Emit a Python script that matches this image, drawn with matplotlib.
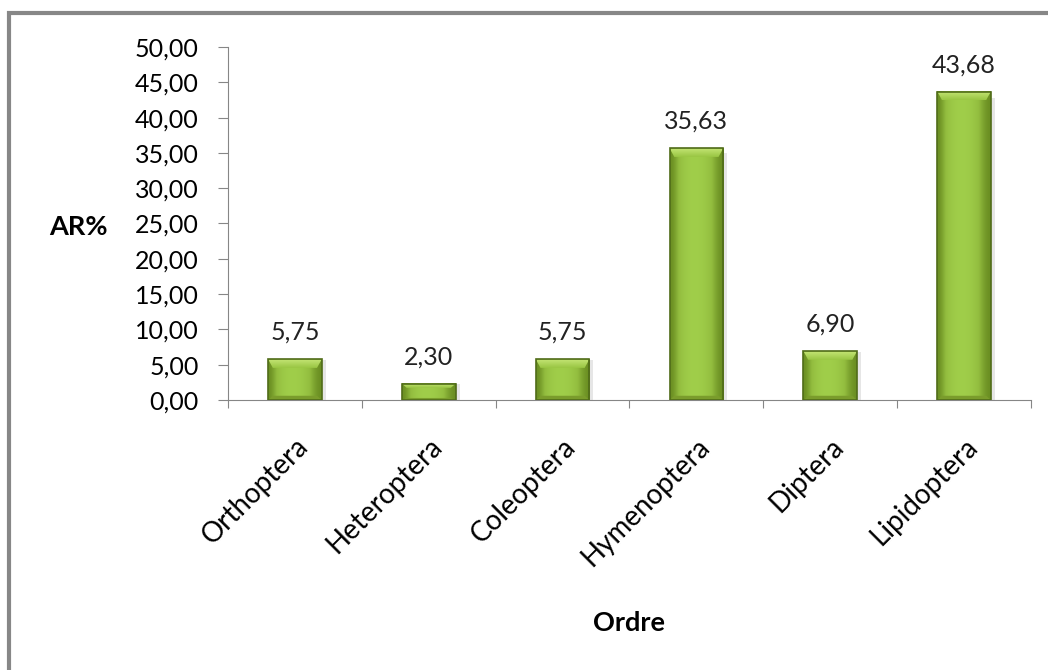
import numpy as np
import matplotlib.pyplot as plt
from matplotlib.patches import Rectangle
from matplotlib.colors import LinearSegmentedColormap

plt.rcParams['font.family'] = ['Lato', 'DejaVu Sans']

ordres = ["Orthoptera", "Heteroptera", "Coleoptera", "Hymenoptera", "Diptera", "Lipidoptera"]
ar_pct = [5.75, 2.30, 5.75, 35.63, 6.90, 43.68]
yticks = np.arange(0, 50.01, 5)

fig = plt.figure(figsize=(10.48, 6.70), dpi=100)
ax = fig.add_axes([228 / 1048, 1 - 400 / 670, 803 / 1048, 353 / 670])

# figure frame (runs off the right and bottom edges)
fig.patches.append(Rectangle((9 / 1048, -0.05), 1.1, 1 - 13 / 670 + 0.05,
                             transform=fig.transFigure, fill=False,
                             edgecolor='#878787', linewidth=3, zorder=0))

x = np.arange(len(ordres))
w = 0.4
# horizontal shading across each bar: dark edges, light middle
grad = np.array([[0.0, 0.55, 0.85, 1.0, 1.0, 0.9, 0.7, 0.3, 0.0]])
cmap = LinearSegmentedColormap.from_list('grn', ['#6a8e22', '#92bc3e', '#a0ce4a'])
hl_cmap = LinearSegmentedColormap.from_list('hl', ['#99c643', '#c4e474'])

for xi, v in zip(x, ar_pct):
    x0, x1 = xi - w / 2, xi + w / 2
    # soft shadow on the right
    ax.add_patch(Rectangle((x1, 0), 0.03, v * 0.98, color='#e6e6e6', lw=0, zorder=1))
    ax.imshow(grad, extent=(x0, x1, 0, v), aspect='auto', cmap=cmap,
              interpolation='bicubic', zorder=2)
    bev = min(1.2, v * 0.25)
    # top bevel highlight, fading downwards
    top = ax.fill([x0, x1, x1 - 0.035, x0 + 0.035], [v, v, v - bev, v - bev],
                  color='none', lw=0, zorder=3)[0]
    im = ax.imshow(np.linspace(0, 1, 20)[:, None], extent=(x0, x1, v - bev, v),
                   aspect='auto', cmap=hl_cmap, origin='lower', zorder=3,
                   interpolation='bicubic')
    im.set_clip_path(top)
    ax.fill([x0, x0 + 0.035, x1 - 0.035, x1], [0, bev * 0.5, bev * 0.5, 0],
            color='#7a9c2c', lw=0, zorder=3)
    ax.add_patch(Rectangle((x0, 0), w, v, fill=False, edgecolor='#506c19',
                           lw=1.2, zorder=4))
    ax.text(xi, v + 2.2, f"{v:.2f}".replace('.', ','), ha='center', va='bottom',
            fontsize=18, color='#222222')

ax.set_xlim(-0.5, len(ordres) - 0.5)
ax.set_ylim(0, 50)
ax.set_yticks(yticks)
ax.set_yticklabels([f"{t:.2f}".replace('.', ',') for t in yticks], fontsize=18)
ax.set_xticks(np.arange(len(ordres) + 1) - 0.5)
ax.set_xticklabels([])
ax.set_xticks(x, minor=True)
ax.set_xticklabels(ordres, minor=True, rotation=45, ha='right',
                   rotation_mode='anchor', fontsize=20)
ax.tick_params(axis='x', which='minor', length=0, pad=24)
ax.tick_params(axis='x', which='major', length=6, direction='out', color='#868686')
ax.tick_params(axis='y', length=7, direction='out', color='#868686', pad=14)

for s in ['top', 'right']:
    ax.spines[s].set_visible(False)
for s in ['left', 'bottom']:
    ax.spines[s].set_color('#868686')

fig.text(78 / 1048, 1 - 227 / 670, "AR%", ha='center', va='center',
         fontsize=19.5, fontweight='bold')
fig.text(629 / 1048, 1 - 623 / 670, "Ordre", ha='center', va='center',
         fontsize=19.5, fontweight='bold')

fig.savefig('out.png', dpi=100)
